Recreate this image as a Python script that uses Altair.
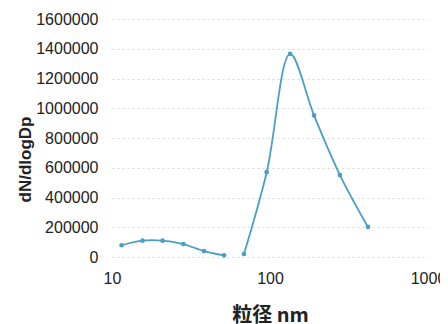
import altair as alt
import pandas as pd

# series 1 (small particles)
d1 = [11.5, 15.6, 20.9, 28.3, 38.2, 51.2]
v1 = [79000, 110000, 110000, 87000, 40000, 11000]
# series 2 (large particles)
d2 = [68.4, 95.3, 134, 190, 277, 417]
v2 = [20000, 570000, 1365000, 952000, 551000, 202000]

y_ticks = [0, 200000, 400000, 600000, 800000, 1000000, 1200000, 1400000, 1600000]
x_ticks = [10, 100, 1000]

df = pd.DataFrame({
    "d": d1 + d2,
    "v": v1 + v2,
    "s": ["a"] * len(d1) + ["b"] * len(d2),
})

LFONT = "Liberation Sans"
TFONT = "Noto Sans CJK JP"
COL = "#4aa0c4"

x = alt.X("d:Q", scale=alt.Scale(type="log", domain=[10, 1000]),
          axis=alt.Axis(values=x_ticks, format="d", title="粒径  nm", grid=False,
                        domain=False, ticks=False, labelPadding=13,
                        labelOverlap=False, labelFlush=False,
                        labelFontSize=16, labelColor="#222", labelFont=LFONT,
                        titleFontSize=20, titleFontWeight="bold", titleColor="#222",
                        titleFont=TFONT, titleY=58, titleBaseline="middle"))
y = alt.Y("v:Q", scale=alt.Scale(domain=[0, 1600000], nice=False),
          axis=alt.Axis(values=y_ticks, format="d", title="dN/dlogDp",
                        domain=False, ticks=False, labelPadding=14,
                        labelOverlap=False, labelFlush=False,
                        labelFontSize=16, labelColor="#222", labelFont=LFONT,
                        titleFontSize=17, titleFontWeight="bold", titleColor="#222",
                        titleFont=LFONT, titleX=-87, titleY=140,
                        titleBaseline="middle", titleAlign="center", titleAngle=270,
                        gridColor="#d8d8d8", gridDash=[2, 3], gridWidth=1))

base = alt.Chart(df).encode(x=x, y=y)
line = base.mark_line(interpolate="catmull-rom", color=COL, strokeWidth=1.8).encode(detail="s:N")
pts = base.mark_point(filled=True, color=COL, size=22, opacity=1)

chart = (line + pts).properties(
    width=316, height=238,
    background="white",
    autosize=alt.AutoSizeParams(type="none"),
    padding={"left": 104, "top": 11, "right": 12, "bottom": 67},
).configure_view(strokeWidth=0)

chart.save("out.html", embed_options={"renderer": "svg", "actions": False})
